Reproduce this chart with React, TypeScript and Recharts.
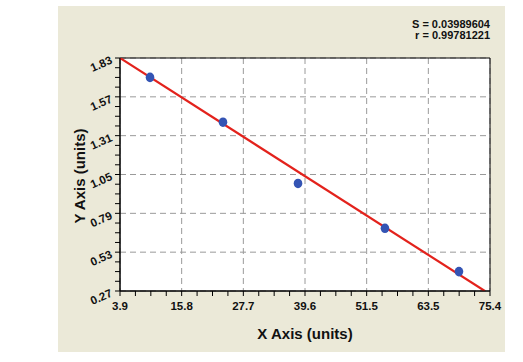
import { ComposedChart, XAxis, YAxis, CartesianGrid, Scatter, Line, ReferenceArea } from 'recharts'

// measured standards (x, y)
const xValues = [9.7, 23.8, 38.3, 55.1, 69.4]
const yValues = [1.70, 1.40, 0.99, 0.69, 0.40]

// fitted regression line
const fitX = [3.9, 74.4]
const fitY = [1.83, 0.27]

const xLabels = ['3.9', '15.8', '27.7', '39.6', '51.5', '63.5', '75.4']
const yLabels = ['0.27', '0.53', '0.79', '1.05', '1.31', '1.57', '1.83']

const statS = 'S = 0.03989604'
const statR = 'r = 0.99781221'

const X_MIN = 3.9
const X_MAX = 75.4
const Y_MIN = 0.27
const Y_MAX = 1.83
const MINOR = 4

const points = xValues.map((x, i) => ({ x, y: yValues[i] }))
const fitLine = fitX.map((x, i) => ({ x, y: fitY[i] }))

const makeTicks = (lo, hi, n) => {
    const out = []
    for (let k = 0; k <= n; k++) out.push(k === n ? hi : lo + ((hi - lo) * k) / n)
    return out
}

const xTicks = makeTicks(X_MIN, X_MAX, (xLabels.length - 1) * MINOR)
const yTicks = makeTicks(Y_MIN, Y_MAX, (yLabels.length - 1) * MINOR)
const xMajor = makeTicks(X_MIN, X_MAX, xLabels.length - 1)
const yMajor = makeTicks(Y_MIN, Y_MAX, yLabels.length - 1)

const majorIndex = (v, lo, hi, count) => {
    const pos = ((v - lo) / (hi - lo)) * (count - 1)
    const r = Math.round(pos)
    return Math.abs(pos - r) < 1e-6 ? r : -1
}

const font = '"Liberation Sans", Arial, sans-serif'

const XTick = (props) => {
    const { x, y, payload } = props
    const idx = majorIndex(payload.value, X_MIN, X_MAX, xLabels.length)
    return (
        <g>
            <line x1={x} y1={y} x2={x} y2={y + 5} stroke="#000" strokeWidth={1} />
            {idx >= 0 && (
                <text x={x} y={y + 19} textAnchor="middle" fontSize={11.5} fontWeight="bold" fontFamily={font} fill="#111">
                    {xLabels[idx]}
                </text>
            )}
        </g>
    )
}

const YTick = (props) => {
    const { x, y, payload } = props
    const idx = majorIndex(payload.value, Y_MIN, Y_MAX, yLabels.length)
    return (
        <g>
            <line x1={x - 5} y1={y} x2={x} y2={y} stroke="#000" strokeWidth={1} />
            {idx >= 0 && (
                <text
                    x={x - 7}
                    y={y + 5}
                    textAnchor="end"
                    fontSize={11.5}
                    fontWeight="bold"
                    fontFamily={font}
                    fill="#111"
                    transform={`rotate(-24, ${x - 7}, ${y + 5})`}
                >
                    {yLabels[idx]}
                </text>
            )}
        </g>
    )
}

const Dot = (props) => {
    const { cx, cy } = props
    return <ellipse cx={cx} cy={cy} rx={4.3} ry={4.8} fill="#3454b4" />
}

export default function App() {
    return (
        <div style={{ position: 'absolute', left: 58, top: 6, width: 447, height: 346, background: '#ebe9d8' }}>
            <ComposedChart width={447} height={346} margin={{ top: 52, right: 15, bottom: 0, left: 0 }}>
                <CartesianGrid
                    fill="#fff"
                    stroke="#9a9a9a"
                    strokeDasharray="6 4"
                    verticalValues={xMajor}
                    horizontalValues={yMajor}
                />
                <XAxis
                    dataKey="x"
                    type="number"
                    domain={[X_MIN, X_MAX]}
                    allowDataOverflow
                    ticks={xTicks}
                    interval={0}
                    tickSize={0}
                    tickMargin={0}
                    tick={<XTick />}
                    height={61}
                    axisLine={{ stroke: '#000' }}
                />
                <YAxis
                    dataKey="y"
                    type="number"
                    domain={[Y_MIN, Y_MAX]}
                    allowDataOverflow
                    ticks={yTicks}
                    interval={0}
                    tickSize={0}
                    tickMargin={0}
                    tick={<YTick />}
                    width={62}
                    axisLine={{ stroke: '#000' }}
                />
                <ReferenceArea x1={X_MIN} x2={X_MAX} y1={Y_MIN} y2={Y_MAX} fill="none" stroke="#000" strokeWidth={1} fillOpacity={0} />
                <Line data={fitLine} dataKey="y" stroke="#e3221c" strokeWidth={2.2} dot={false} isAnimationActive={false} />
                <Scatter data={points} dataKey="y" shape={<Dot />} isAnimationActive={false} />
                <text x={432} y={22} textAnchor="end" fontSize={11} fontWeight="bold" fontFamily={font} fill="#111">{statS}</text>
                <text x={432} y={33} textAnchor="end" fontSize={11} fontWeight="bold" fontFamily={font} fill="#111">{statR}</text>
                <text x={247} y={333} textAnchor="middle" fontSize={15} fontWeight="bold" fontFamily={font} fill="#111">X Axis (units)</text>
                <text
                    x={27}
                    y={170}
                    textAnchor="middle"
                    fontSize={15}
                    fontWeight="bold"
                    fontFamily={font}
                    fill="#111"
                    transform="rotate(-90, 27, 170)"
                >
                    Y Axis (units)
                </text>
            </ComposedChart>
        </div>
    )
}
